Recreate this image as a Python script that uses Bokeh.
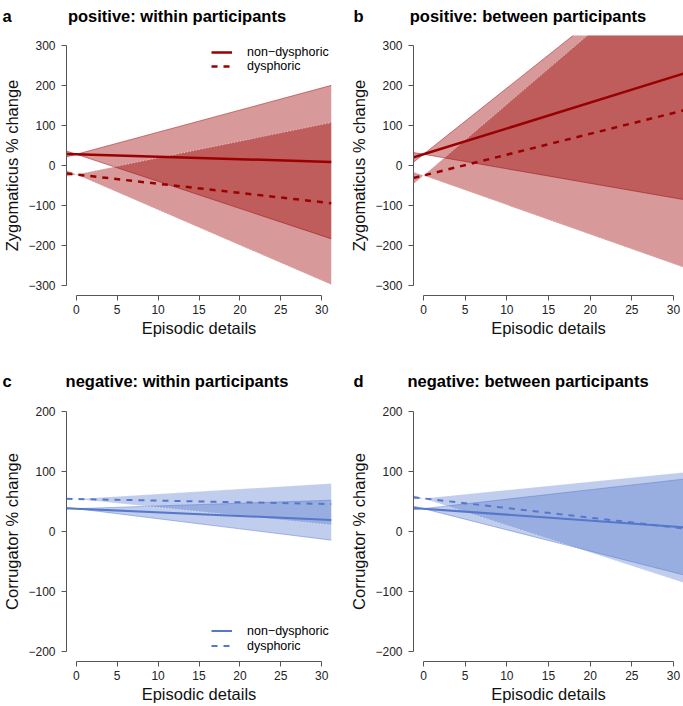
from bokeh.plotting import figure
from bokeh.models import Range1d, FixedTicker
from bokeh.layouts import column, row
from bokeh.core.properties import value
from bokeh.embed import file_html
from bokeh.resources import INLINE

# ---------------- data ----------------
x_pts = [-1.2, 0, 31.2]           # episodic details at which values were read

# panel a: positive, within participants (Zygomaticus % change)
a_nd_fit = [28.7, 28, 9.0]
a_nd_up = [21.4, 28, 199.9]
a_nd_lo = [36.1, 28, -182.9]
a_d_fit = [-19.8, -22.5, -94.0]
a_d_up = [-27.5, -22.5, 107.0]
a_d_lo = [-11.9, -22.5, -297.4]

# panel b: positive, between participants
b_nd_fit = [20.3, 28, 228.9]
b_nd_up = [8.2, 28, 542.8]
b_nd_lo = [32.3, 28, -84.9]
b_d_fit = [-31.2, -25, 137.2]
b_d_up = [-46.3, -25, 528.5]
b_d_lo = [-16.2, -25, -254.0]

# panel c: negative, within participants (Corrugator % change)
c_nd_fit = [38.7, 38, 19.0]
c_nd_up = [37.5, 38, 52.0]
c_nd_lo = [40.0, 38, -14.4]
c_d_fit = [54.3, 54, 45.6]
c_d_up = [53.0, 54, 79.9]
c_d_lo = [55.7, 54, 10.6]

# panel d: negative, between participants
d_nd_fit = [39.2, 38, 6.8]
d_nd_up = [36.1, 38, 87.0]
d_nd_lo = [42.2, 38, -72.1]
d_d_fit = [56.9, 55, 5.1]
d_d_up = [53.3, 55, 98.1]
d_d_lo = [60.4, 55, -85.1]

x_ticks = [0, 5, 10, 15, 20, 25, 30]
zyg_ticks = [-300, -200, -100, 0, 100, 200, 300]
zyg_labels = ["\u2212300", "\u2212200", "\u2212100", "0", "100", "200", "300"]
cor_ticks = [-200, -100, 0, 100, 200]
cor_labels = ["\u2212200", "\u2212100", "0", "100", "200"]

group_labels = ["non\u2212dysphoric", "dysphoric"]
panel_letters = ["a", "b", "c", "d"]
panel_titles = ["positive: within participants", "positive: between participants",
                "negative: within participants", "negative: between participants"]
x_label = "Episodic details"
zyg_label = "Zygomaticus % change"
cor_label = "Corrugator % change"

RED = "#9A0000"
BLUE = "#5577CC"
FONT = "Liberation Sans"


def title_strip(width, height, letter, title, frame_left, baseline_from_top):
    t = figure(width=width, height=height, output_backend="svg",
               toolbar_location=None, x_axis_type=None, y_axis_type=None,
               x_range=Range1d(0, width), y_range=Range1d(0, height),
               min_border_left=0, min_border_right=0,
               min_border_top=0, min_border_bottom=0)
    t.outline_line_color = None
    t.xgrid.visible = False
    t.ygrid.visible = False
    yb = height - baseline_from_top
    t.text(x=[frame_left - 60], y=[yb], text=[letter], text_align="left",
           text_baseline="alphabetic", text_font=value(FONT),
           text_font_style="bold", text_font_size="16.5px", text_color="black")
    t.text(x=[frame_left + 114.5], y=[yb], text=[title], text_align="center",
           text_baseline="alphabetic", text_font=value(FONT),
           text_font_style="bold", text_font_size="16.5px", text_color="black")
    return t


def make_panel(width, height, borders, y_lim, ticks, tick_labels, ylab,
               nd, d, color, legend_loc=None, row_h=14, lw=2.5, alpha=0.4):
    bl, br, bt, bb = borders
    p = figure(width=width, height=height, output_backend="svg",
               toolbar_location=None,
               x_range=Range1d(-1.2, 31.2), y_range=Range1d(-y_lim, y_lim),
               min_border_left=bl, min_border_right=br,
               min_border_top=bt, min_border_bottom=bb)
    p.outline_line_color = None
    p.xgrid.visible = False
    p.ygrid.visible = False
    p.background_fill_color = "white"

    nd_fit, nd_up, nd_lo = nd
    d_fit, d_up, d_lo = d

    # confidence bands
    p.varea(x=x_pts, y1=nd_lo, y2=nd_up, fill_color=color, fill_alpha=alpha)
    p.varea(x=x_pts, y1=d_lo, y2=d_up, fill_color=color, fill_alpha=alpha)
    for yy in (nd_up, nd_lo):
        p.line(x_pts, yy, line_color=color, line_alpha=0.45, line_width=1)
    for yy in (d_up, d_lo):
        p.line(x_pts, yy, line_color="white", line_alpha=0.6, line_width=1,
               line_dash="1 2")

    # fitted lines
    if legend_loc is not None:
        p.line(x_pts, nd_fit, line_color=color, line_width=lw,
               legend_label=group_labels[0])
        p.line(x_pts, d_fit, line_color=color, line_width=lw,
               line_dash="6 6", legend_label=group_labels[1])
        lg = p.legend[0]
        lg.location = legend_loc
        lg.label_text_font = FONT
        lg.label_text_font_size = "12.5px"
        lg.label_text_color = "black"
        lg.glyph_width = 21
        lg.glyph_height = row_h
        lg.label_height = row_h
        lg.label_standoff = 15
        lg.spacing = 0
        lg.padding = 0
        lg.margin = 0
        lg.border_line_alpha = 0
        lg.background_fill_alpha = 0
    else:
        p.line(x_pts, nd_fit, line_color=color, line_width=lw)
        p.line(x_pts, d_fit, line_color=color, line_width=lw, line_dash="6 6")

    # axes, R style
    xa = p.xaxis[0]
    xa.bounds = (0, 30)
    xa.ticker = FixedTicker(ticks=x_ticks)
    ya = p.yaxis[0]
    ya.bounds = (ticks[0], ticks[-1])
    ya.ticker = FixedTicker(ticks=ticks)
    ya.major_label_overrides = {t: s for t, s in zip(ticks, tick_labels)}
    for ax in (xa, ya):
        ax.major_tick_out = 5
        ax.major_tick_in = 0
        ax.minor_tick_line_color = None
        ax.axis_line_color = "#555555"
        ax.major_tick_line_color = "#555555"
        ax.major_label_text_font = FONT
        ax.major_label_text_font_size = "12px"
        ax.major_label_text_color = "#222222"
        ax.axis_label_text_font = FONT
        ax.axis_label_text_font_size = "16.5px"
        ax.axis_label_text_font_style = "normal"
        ax.axis_label_text_color = "#111111"
    xa.axis_label = x_label
    xa.major_label_standoff = 4
    xa.axis_label_standoff = 2
    ya.axis_label = ylab
    ya.major_label_standoff = 6
    ya.axis_label_standoff = 4
    return p


# page: left column 340 px, right column 343 px; rows 35 + 318 + 48 + 305 = 706
ta = title_strip(340, 35, panel_letters[0], panel_titles[0], 62, 15)
tb = title_strip(343, 35, panel_letters[1], panel_titles[1], 73, 15)
tc = title_strip(340, 48, panel_letters[2], panel_titles[2], 62, 27)
td = title_strip(343, 48, panel_letters[3], panel_titles[3], 73, 27)

pa = make_panel(340, 318, (62, 9, 0, 58), 324, zyg_ticks, zyg_labels, zyg_label,
                (a_nd_fit, a_nd_up, a_nd_lo), (a_d_fit, a_d_up, a_d_lo), RED,
                legend_loc=(145, 222), row_h=14)
pb = make_panel(343, 318, (73, 0, 0, 58), 324, zyg_ticks, zyg_labels, zyg_label,
                (b_nd_fit, b_nd_up, b_nd_lo), (b_d_fit, b_d_up, b_d_lo), RED)
pc = make_panel(340, 305, (62, 9, 0, 45), 216, cor_ticks, cor_labels, cor_label,
                (c_nd_fit, c_nd_up, c_nd_lo), (c_d_fit, c_d_up, c_d_lo), BLUE,
                legend_loc=(145, 8), row_h=15, lw=2, alpha=0.37)
pd = make_panel(343, 305, (73, 0, 0, 45), 216, cor_ticks, cor_labels, cor_label,
                (d_nd_fit, d_nd_up, d_nd_lo), (d_d_fit, d_d_up, d_d_lo), BLUE,
                lw=2, alpha=0.37)

layout = column(row(ta, tb), row(pa, pb), row(tc, td), row(pc, pd))
open("out.html", "w").write(file_html(layout, INLINE))
